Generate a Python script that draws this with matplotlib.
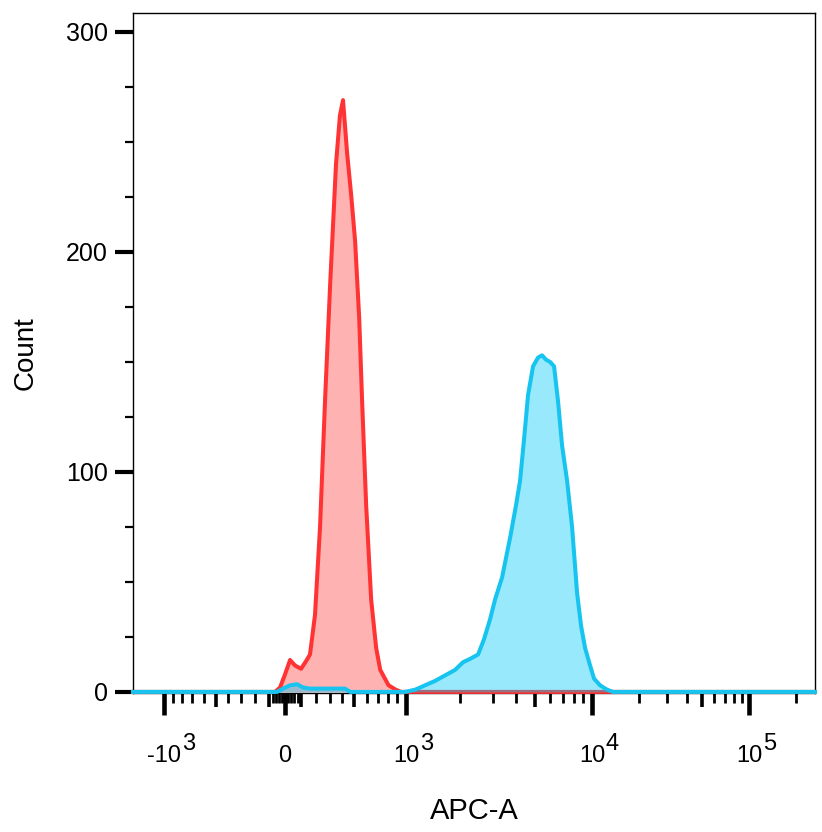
import numpy as np
import matplotlib
matplotlib.use('Agg')
from matplotlib import pyplot as plt
from matplotlib.ticker import FixedLocator, FixedFormatter, MultipleLocator

plt.rcParams['font.family'] = ['Liberation Sans', 'DejaVu Sans']

# APC-A intensity and counts
red_x = [-1500, -64, -32, 0, 32, 64, 103, 136, 162, 196, 231, 267, 304, 349, 380,
         405, 439, 474, 508, 540, 563, 597, 640, 685, 723, 805, 882, 942, 262144]
red_y = [0, 0, 2, 8, 14.5, 12, 10.5, 14, 17, 35, 75, 133, 185, 240, 262,
         269, 245, 226, 205, 170, 133, 85, 42, 20, 10, 3, 1, 0, 0]

cyan_x = [-1500, -51, -13, 32, 77, 116, 162, 304, 422, 466, 988, 1128, 1285, 1462,
          1659, 1881, 2078, 2266, 2502, 2693, 2899, 3082, 3357, 3701, 3982, 4180,
          4389, 4607, 4895, 5201, 5460, 5731, 6015, 6314, 6628, 6957, 7391, 7852,
          8341, 8755, 9189, 9762, 10300, 11245, 12465, 13612, 262144]
cyan_y = [0, 0, 1.5, 3, 3.5, 2, 1.5, 1.5, 1.5, 0, 0, 1, 3, 5,
          7.5, 10, 13.5, 15, 17, 24, 33, 42, 52, 70, 85, 96,
          115, 135, 148, 152, 153, 151, 150, 148, 132, 112, 96, 75,
          45, 30, 20, 12, 6, 3, 1, 0, 0]

major_ticks = [-1000, 0, 1000, 1e4, 1e5]
major_labels = ['-10', '0', '10', '10', '10']
major_exps = ['3', '', '3', '4', '5']
mid_ticks = [-500, -100, 100, 500, 5000, 50000]
minor_ticks = ([-900, -800, -700, -600, -400, -300, -200]
               + [-80, -60, -40, -20, 20, 40, 60, 80]
               + [200, 300, 400, 600, 700, 800, 900]
               + [2000, 3000, 4000, 6000, 7000, 8000, 9000]
               + [20000, 30000, 40000, 60000, 70000, 80000, 90000]
               + [200000])

# biexponential-like display transform (anchors in arcsinh space)
anchor_v = np.array([0, 500, 1000, 1e4, 1e5, 1e6])
anchor_s = np.arcsinh(anchor_v / 500)
anchor_p = np.array([0, 69, 121, 307, 464, 621.5])

def fwd(v):
    v = np.asarray(v, dtype=float)
    return np.sign(v) * np.interp(np.arcsinh(np.abs(v) / 500), anchor_s, anchor_p)

def inv(p):
    p = np.asarray(p, dtype=float)
    return np.sign(p) * 500 * np.sinh(np.interp(np.abs(p), anchor_p, anchor_s))

fig = plt.figure(figsize=(8.22, 8.32), dpi=100)
ax = fig.add_axes([133/822, (832-693)/832, 682/822, 680/832])
ax.set_xscale('function', functions=(fwd, inv))

ax.fill_between(red_x, red_y, color='#ff0000', alpha=0.3, lw=0, zorder=1)
ax.plot(red_x, red_y, color='#ff3333', lw=2.9, zorder=3, clip_on=False)
ax.fill_between(cyan_x, cyan_y, color='#00c8f8', alpha=0.4, lw=0, zorder=3.5)
ax.plot(cyan_x, cyan_y, color='#17c4f0', lw=2.9, zorder=4, clip_on=False)

ax.set_xlim(-1500, 262144)
ax.set_ylim(-0.5, 308.6)

for s in ax.spines.values():
    s.set_linewidth(1.0)

ax.yaxis.set_major_locator(MultipleLocator(100))
ax.yaxis.set_minor_locator(MultipleLocator(25))
ax.tick_params(axis='y', which='major', length=13, width=3.0, labelsize=18, pad=5)
ax.tick_params(axis='y', which='minor', length=6, width=1.6)

ax.xaxis.set_major_locator(FixedLocator(major_ticks))
ax.xaxis.set_major_formatter(FixedFormatter(major_labels))
all_minor = sorted(minor_ticks + mid_ticks)
ax.xaxis.set_minor_locator(FixedLocator(all_minor))
ax.tick_params(axis='x', which='major', length=16, width=3.3, labelsize=17, pad=34)
ax.tick_params(axis='x', which='minor', length=7, width=2.0)
for t, v in zip(ax.xaxis.get_minor_ticks(len(all_minor)), all_minor):
    if v in mid_ticks:
        t.tick1line.set_markersize(10)
        t.tick1line.set_markeredgewidth(2.6)
plt.setp(ax.get_xticklabels(), va='baseline')

# full-size raised exponents next to the "10" labels
for v, base, e in zip(major_ticks, major_labels, major_exps):
    if e:
        half_w = 17 * (0.556 * len(base.replace('-', '')) + 0.333 * base.count('-')) / 2
        ax.annotate(e, xy=(v, 0), xycoords=('data', 'axes fraction'),
                    xytext=(half_w + 0.5, -41), textcoords='offset points',
                    ha='left', va='baseline', fontsize=17, annotation_clip=False)

ax.set_xlabel('APC-A', fontsize=21)
ax.set_ylabel('Count', fontsize=20)
ax.xaxis.set_label_coords(0.5, -0.153)
ax.yaxis.set_label_coords(-0.138, 0.5)

fig.savefig('out.png', dpi=100)
